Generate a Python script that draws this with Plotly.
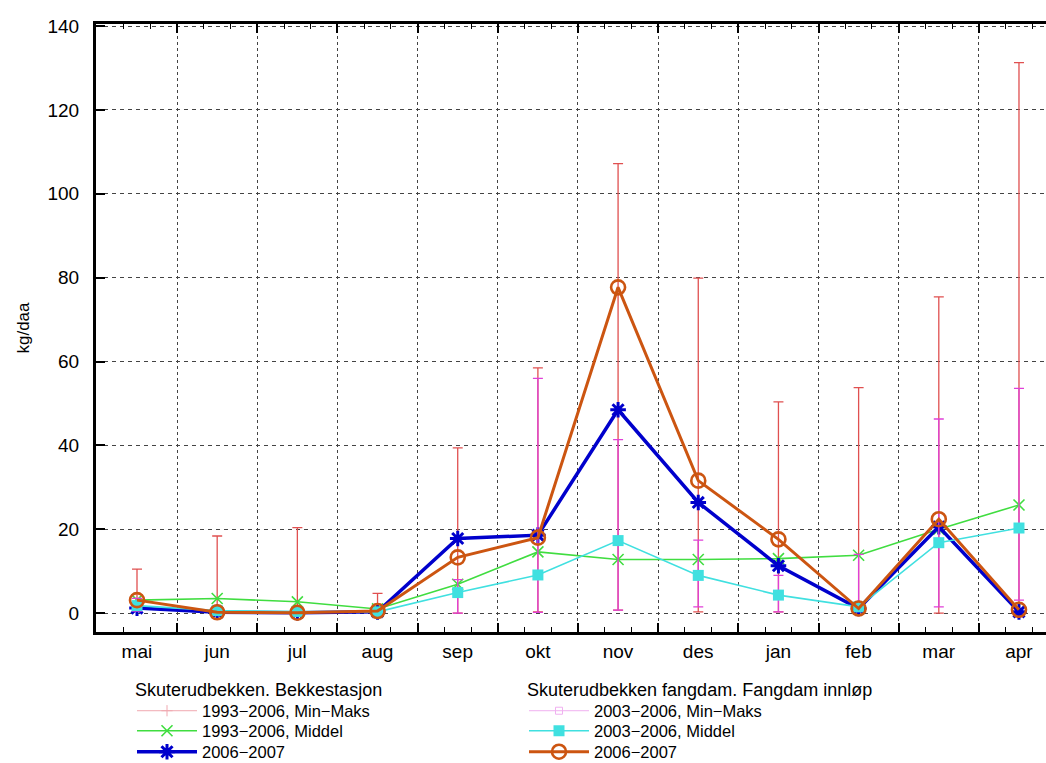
import plotly.graph_objects as go

months = ["mai", "jun", "jul", "aug", "sep", "okt", "nov", "des", "jan", "feb", "mar", "apr"]

# Skuterudbekken. Bekkestasjon
bekk_minmaks_min = [0.8, 0.1, 0.1, 0.1, 0.0, 0.3, 0.7, 0.3, 0.3, 0.0, 0.0, 0.0]
bekk_minmaks_max = [10.5, 18.4, 20.4, 4.7, 39.4, 58.5, 107.2, 79.9, 50.4, 53.8, 75.4, 131.3]
bekk_middel = [3.1, 3.5, 2.7, 1.0, 6.9, 14.6, 12.8, 12.8, 13.0, 13.8, 20.0, 25.8]
bekk_0607 = [1.2, 0.2, 0.1, 0.3, 17.8, 18.6, 48.5, 26.4, 11.3, 1.1, 20.6, 0.3]

# Skuterudbekken fangdam. Fangdam innløp
fang_minmaks_min = [0.5, 0.1, 0.1, 0.1, 0.0, 0.2, 0.7, 1.5, 0.3, 1.5, 1.5, 3.1]
fang_minmaks_max = [3.5, 1.5, 1.0, 0.8, 8.0, 56.0, 41.4, 17.4, 9.0, 14.0, 46.3, 53.6]
fang_middel = [1.8, 0.6, 0.4, 0.3, 4.9, 9.1, 17.3, 9.0, 4.3, 1.5, 16.8, 20.3]
fang_0607 = [3.1, 0.2, 0.1, 0.5, 13.3, 18.0, 77.7, 31.6, 17.6, 1.1, 22.4, 0.8]

group_titles = ["Skuterudbekken. Bekkestasjon", "Skuterudbekken fangdam. Fangdam innløp"]
ytick_vals = [0, 20, 40, 60, 80, 100, 120, 140]

RED = "#e05050"
MAG = "#e040d8"
GREEN = "#40dd40"
BLUE = "#0000cc"
CYAN = "#40e0e0"
ORANGE = "#cc5511"
FONT = "Liberation Sans, Arial, sans-serif"

xs = list(range(len(months)))

W, H = 1046, 763
L, R, T, B = 96, 0, 24, 131
plot_w = W - L - R
plot_h = H - T - B
spacing = 80.18

def px_x(px):
    return (px - L) / plot_w

def px_y(py):
    return (H - B - py) / plot_h

fig = go.Figure()

def minmax_trace(mins, maxs, color):
    return go.Scatter(
        x=xs, y=mins, mode="markers",
        marker=dict(size=1, color="rgba(0,0,0,0)"),
        error_y=dict(type="data", symmetric=False,
                     array=[mx - mn for mn, mx in zip(mins, maxs)],
                     arrayminus=[0] * len(mins),
                     color=color, thickness=1.3, width=5),
        showlegend=False, hoverinfo="skip")

# left column
fig.add_trace(minmax_trace(bekk_minmaks_min, bekk_minmaks_max, RED))
fig.add_trace(go.Scatter(
    x=[None], y=[None], mode="lines+markers", name="1993\u22122006, Min\u2212Maks",
    line=dict(color="#f0a8b0", width=1),
    marker=dict(symbol="cross-thin-open", size=8, line=dict(color=RED, width=1)),
    legend="legend"))
fig.add_trace(go.Scatter(
    x=xs, y=bekk_middel, mode="lines+markers", name="1993\u22122006, Middel",
    line=dict(color=GREEN, width=1.6),
    marker=dict(symbol="x-thin-open", size=11, line=dict(color=GREEN, width=1.6)),
    legend="legend3"))
fig.add_trace(go.Scatter(
    x=xs, y=bekk_0607, mode="lines+markers", name="2006\u22122007",
    line=dict(color=BLUE, width=3.5),
    marker=dict(symbol="asterisk-open", size=13, line=dict(color=BLUE, width=3)),
    legend="legend5"))

# right column
fig.add_trace(minmax_trace(fang_minmaks_min, fang_minmaks_max, MAG))
fig.add_trace(go.Scatter(
    x=[None], y=[None], mode="lines+markers", name="2003\u22122006, Min\u2212Maks",
    line=dict(color="#f0b0f0", width=1),
    marker=dict(symbol="square-open", size=7, line=dict(color="#e8a0e8", width=1)),
    legend="legend2"))
fig.add_trace(go.Scatter(
    x=xs, y=fang_middel, mode="lines+markers", name="2003\u22122006, Middel",
    line=dict(color=CYAN, width=1.6),
    marker=dict(symbol="square", size=11, color=CYAN),
    legend="legend4"))
fig.add_trace(go.Scatter(
    x=xs, y=fang_0607, mode="lines+markers", name="2006\u22122007",
    line=dict(color=ORANGE, width=3),
    marker=dict(symbol="circle-open", size=14, line=dict(color=ORANGE, width=2.6)),
    legend="legend6"))

legend_common = dict(
    xanchor="left", yanchor="middle", bgcolor="rgba(0,0,0,0)",
    font=dict(family=FONT, size=16.5, color="black"),
    itemwidth=60, tracegroupgap=0, traceorder="normal",
    itemclick=False, itemdoubleclick=False)

row_y = [711, 731, 752]
col_x = [132, 524]
legends = {}
names = ["legend", "legend2", "legend3", "legend4", "legend5", "legend6"]
for i, nm in enumerate(names):
    legends[nm] = dict(x=px_x(col_x[i % 2]), y=px_y(row_y[i // 2]), **legend_common)

annotations = [
    dict(text=group_titles[0], x=px_x(133), y=px_y(690), xref="paper", yref="paper",
         xanchor="left", yanchor="middle", showarrow=False,
         font=dict(family=FONT, size=18, color="black")),
    dict(text=group_titles[1], x=px_x(525), y=px_y(690), xref="paper", yref="paper",
         xanchor="left", yanchor="middle", showarrow=False,
         font=dict(family=FONT, size=18, color="black")),
]

fig.update_layout(
    width=W, height=H,
    margin=dict(l=L, r=R, t=T, b=B, pad=0, autoexpand=False),
    paper_bgcolor="white", plot_bgcolor="white",
    font=dict(family=FONT, size=19, color="black"),
    showlegend=True,
    annotations=annotations,
    xaxis=dict(
        range=[-(137 - L) / spacing, (W - 137) / spacing],
        tickmode="array",
        tickvals=[i - 0.5 for i in xs],
        ticktext=months,
        ticklabelshift=40,
        ticks="inside", ticklen=9, tickwidth=1.5, tickcolor="black",
        minor=dict(tick0=-0.5, dtick=1 / 3, ticks="inside", ticklen=5,
                   tickwidth=1.2, tickcolor="black", showgrid=False),
        showgrid=True, griddash="dot", gridcolor="#444", gridwidth=1.3,
        showline=True, linewidth=3, linecolor="black", mirror="allticks",
        zeroline=False, tickfont=dict(size=19), ticklabelstandoff=0,
        fixedrange=True, automargin=False,
    ),
    yaxis=dict(
        range=[-4.5, 140.5],
        tickmode="array", tickvals=ytick_vals,
        ticks="inside", ticklen=9, tickwidth=1.5, tickcolor="black",
        showgrid=True, griddash="4px,4px", gridcolor="#444", gridwidth=1.3,
        showline=True, linewidth=3, linecolor="black", mirror=False,
        zeroline=False, tickfont=dict(size=19), ticklabelstandoff=10,
        title=dict(text="kg/daa", font=dict(size=17), standoff=14),
        fixedrange=True, automargin=False,
    ),
    **legends,
)

fig.write_html("out.html", config={"displayModeBar": False})
